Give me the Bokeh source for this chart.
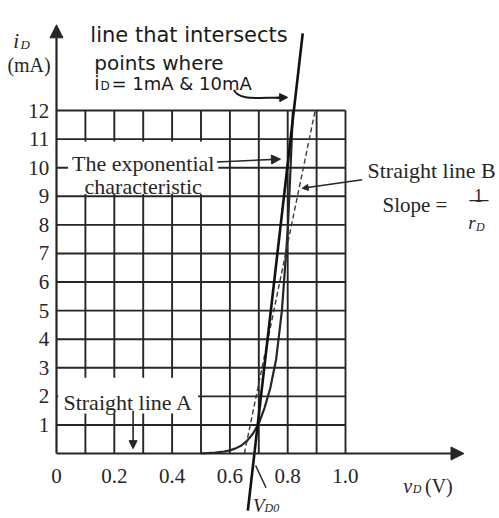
from bokeh.plotting import figure
from bokeh.models import Arrow, NormalHead, Range1d
from bokeh.core.properties import value
from bokeh.embed import file_html
from bokeh.resources import INLINE

# ---------------- data ----------------
grid_v = [0.1, 0.2, 0.3, 0.4, 0.5, 0.6, 0.7, 0.8, 0.9, 1.0]
grid_i = [1, 2, 3, 4, 5, 6, 7, 8, 9, 10, 11, 12]
x_ticks = [0, 0.2, 0.4, 0.6, 0.8, 1.0]
x_labels = ["0", "0.2", "0.4", "0.6", "0.8", "1.0"]
y_ticks = [1, 2, 3, 4, 5, 6, 7, 8, 9, 10, 11, 12]
y_labels = ["1", "2", "3", "4", "5", "6", "7", "8", "9", "10", "11", "12"]

# exponential characteristic (v in V, i in mA)
exp_v = [0.50, 0.55, 0.58, 0.60, 0.62, 0.64, 0.66, 0.68, 0.70, 0.72, 0.74, 0.76, 0.78, 0.80, 0.81, 0.818]
exp_i = [0.0, 0.03, 0.07, 0.11, 0.18, 0.28, 0.45, 0.70, 1.05, 1.6, 2.3, 3.3, 5.0, 7.8, 10.0, 12.0]

# hand-drawn line through the 1 mA and 10 mA points
lineA_v = [0.662, 0.852]
lineA_i = [-2.0, 14.7]

# straight line B (slope 1/rD), from VD0
lineB_v = [0.65, 0.895]
lineB_i = [0.0, 12.0]

INK = "#262626"
PEN = "#1a1a1a"
SERIF = value("Liberation Serif")
HAND = value("DejaVu Sans")

p = figure(width=499, height=518, x_range=Range1d(-0.1938, 1.5329), y_range=Range1d(-2.274, 15.85),
           output_backend="svg", toolbar_location=None, min_border=0,
           x_axis_type=None, y_axis_type=None)
p.grid.visible = False
p.outline_line_color = None
p.background_fill_color = "white"
p.border_fill_color = "white"

# grid
vmax = grid_v[-1]
imax = grid_i[-1]
p.multi_line(xs=[[v, v] for v in grid_v], ys=[[0, imax] for v in grid_v], line_color=INK, line_width=1.9)
p.multi_line(xs=[[0, vmax] for i in grid_i], ys=[[i, i] for i in grid_i], line_color=INK, line_width=1.9)

# white label boxes that interrupt the grid
p.quad(left=[0.04, 0.006], right=[0.56, 0.49], bottom=[9.08, 1.4], top=[10.92, 2.65],
       fill_color="white", line_color=None)

# axes with arrows
p.add_layout(Arrow(end=NormalHead(size=13, fill_color=INK, line_color=INK), x_start=0, y_start=0,
                   x_end=0, y_end=15.0, line_color=INK, line_width=2.2))
p.add_layout(Arrow(end=NormalHead(size=13, fill_color=INK, line_color=INK), x_start=0, y_start=0,
                   x_end=1.41, y_end=0, line_color=INK, line_width=2.2))

# curves
p.line(exp_v, exp_i, line_color=INK, line_width=2.2)
p.line(lineB_v, lineB_i, line_color="#3a3a3a", line_width=1.4, line_dash="5 3")
p.line(lineA_v, lineA_i, line_color="#111111", line_width=2.6)

AB = "alphabetic"

# tick labels
p.text(x=x_ticks, y=[-0.8] * len(x_ticks), text=x_labels, text_font=SERIF, text_font_size=value("21px"),
       text_align="center", text_baseline=AB, text_color=INK)
p.text(x=[-0.025] * len(y_ticks), y=y_ticks, text=y_labels, text_font=SERIF, text_font_size=value("21px"),
       text_align="right", text_baseline="middle", text_color=INK)

# axis titles
p.text(x=[-0.15], y=[14.45], text=["i"], text_font=SERIF, text_font_style="italic",
       text_font_size=value("21px"), text_baseline=AB, text_color=INK)
p.text(x=[-0.125], y=[14.3], text=["D"], text_font=SERIF, text_font_style="italic",
       text_font_size=value("13px"), text_baseline=AB, text_color=INK)
p.text(x=[-0.095], y=[13.6], text=["(mA)"], text_font=SERIF, text_font_size=value("20px"),
       text_align="center", text_baseline=AB, text_color=INK)

p.text(x=[1.2], y=[-1.12], text=["v"], text_font=SERIF, text_font_style="italic",
       text_font_size=value("20px"), text_baseline=AB, text_color=INK)
p.text(x=[1.233], y=[-1.25], text=["D"], text_font=SERIF, text_font_style="italic",
       text_font_size=value("12px"), text_baseline=AB, text_color=INK)
p.text(x=[1.275], y=[-1.12], text=["(V)"], text_font=SERIF, text_font_size=value("20px"),
       text_baseline=AB, text_color=INK)

# V_D0
p.text(x=[0.68], y=[-1.82], text=["V"], text_font=SERIF, text_font_style="italic",
       text_font_size=value("19px"), text_baseline=AB, text_color=INK)
p.text(x=[0.72], y=[-1.9], text=["D0"], text_font=SERIF, text_font_style="italic",
       text_font_size=value("12px"), text_baseline=AB, text_color=INK)
p.line([0.689, 0.725], [-0.42, -1.2], line_color=INK, line_width=1.5)

# label: exponential characteristic
p.text(x=[0.30, 0.30], y=[10.15, 9.34], text=["The exponential", "characteristic"], text_font=SERIF,
       text_font_size=value("22px"), text_align="center", text_baseline=AB, text_color=INK)
p.add_layout(Arrow(end=NormalHead(size=9, fill_color=INK, line_color=INK), x_start=0.555, y_start=10.2,
                   x_end=0.775, y_end=10.3, line_color=INK, line_width=1.6))

# label: straight line A
p.text(x=[0.024], y=[1.8], text=["Straight line A"], text_font=SERIF, text_font_size=value("22px"),
       text_baseline=AB, text_color=INK)
p.add_layout(Arrow(end=NormalHead(size=8, fill_color=INK, line_color=INK), x_start=0.265, y_start=1.5,
                   x_end=0.265, y_end=0.17, line_color=INK, line_width=1.6))

# label: straight line B
p.text(x=[1.076], y=[9.9], text=["Straight line B"], text_font=SERIF, text_font_size=value("22px"),
       text_baseline=AB, text_color=INK)
p.text(x=[1.128], y=[8.68], text=["Slope ="], text_font=SERIF, text_font_size=value("21px"),
       text_baseline=AB, text_color=INK)
p.text(x=[1.46], y=[9.03], text=["1"], text_font=SERIF, text_font_size=value("18px"),
       text_align="center", text_baseline=AB, text_color=INK)
p.line([1.429, 1.495], [8.85, 8.85], line_color=INK, line_width=1.3)
p.text(x=[1.425], y=[8.08], text=["r"], text_font=SERIF, text_font_style="italic",
       text_font_size=value("19px"), text_baseline=AB, text_color=INK)
p.text(x=[1.452], y=[7.94], text=["D"], text_font=SERIF, text_font_style="italic",
       text_font_size=value("12px"), text_baseline=AB, text_color=INK)
p.add_layout(Arrow(end=NormalHead(size=6, fill_color=INK, line_color=INK), x_start=1.058, y_start=9.58,
                   x_end=0.85, y_end=9.28, line_color=INK, line_width=1.4))

# handwritten note
p.text(x=[0.117], y=[14.63], text=["line that intersects"], text_font=HAND, text_font_size=value("21px"),
       text_baseline=AB, text_color=PEN)
p.text(x=[0.131], y=[13.65], text=["points where"], text_font=HAND, text_font_size=value("20px"),
       text_baseline=AB, text_color=PEN)
p.text(x=[0.131], y=[12.95], text=["i"], text_font=HAND, text_font_size=value("19px"),
       text_baseline=AB, text_color=PEN)
p.text(x=[0.152], y=[12.85], text=["D"], text_font=HAND, text_font_size=value("12px"),
       text_baseline=AB, text_color=PEN)
p.text(x=[0.19], y=[12.95], text=["= 1mA & 10mA"], text_font=HAND, text_font_size=value("18px"),
       text_baseline=AB, text_color=PEN)
p.bezier(x0=[0.614], y0=[12.72], x1=[0.78], y1=[12.45], cx0=[0.63], cy0=[12.35], cx1=[0.69], cy1=[12.45],
         line_color=PEN, line_width=2)
p.add_layout(Arrow(end=NormalHead(size=8, fill_color=PEN, line_color=PEN), x_start=0.76,
                   y_start=12.45, x_end=0.80, y_end=12.46, line_color=PEN, line_width=2))

open("out.html", "w").write(file_html(p, INLINE))
